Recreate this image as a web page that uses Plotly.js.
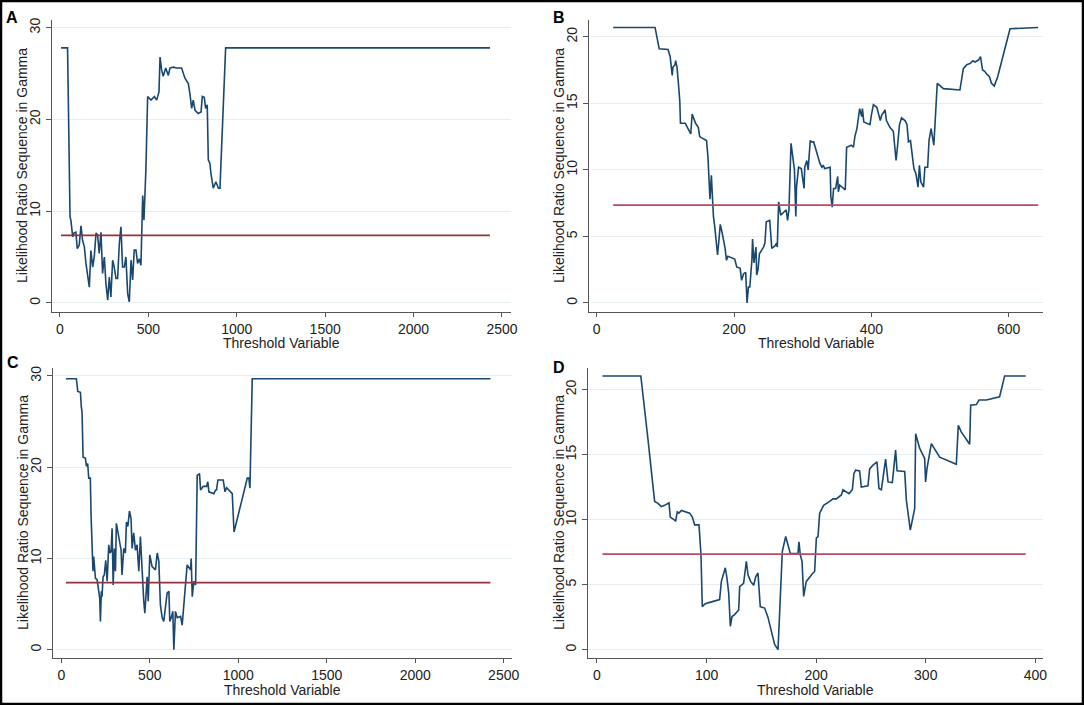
<!DOCTYPE html>
<html>
<head>
<meta charset="utf-8">
<script src="https://cdn.plot.ly/plotly-3.0.1.min.js"></script>
<style>
  html, body { margin: 0; padding: 0; background: #fff; }
  #graph { width: 1084px; height: 705px; }
</style>
</head>
<body>
<div id="graph"></div>
<script>
// LR sequence
const critValue = 7.35;

const aX = [6, 43, 57, 62, 72, 79, 90, 98, 109, 119, 128, 138, 147, 156, 166, 175, 185, 194, 204, 213,
  222, 232, 241, 251, 260, 270, 279, 288, 298, 307, 317, 326, 336, 345, 354, 364, 373, 383, 392, 402,
  411, 420, 430, 439, 449, 458, 468, 475, 486, 496, 515, 534, 547, 560, 566, 575, 584, 598, 613, 622,
  641, 660, 679, 688, 707, 726, 735, 745, 754, 764, 782, 798, 805, 816, 824, 833, 839, 848, 854, 867,
  882, 896, 905, 937, 2432];
const aY = [27.8, 27.8, 9.4, 9.0, 7.2, 7.6, 7.7, 5.9, 6.3, 8.4, 6.8, 6.1, 4.3, 3.0, 1.7, 5.7, 3.9, 5.0, 7.6, 7.4,
  5.4, 7.7, 3.2, 5.0, 2.1, 0.3, 2.8, 0.65, 4.65, 3.9, 2.65, 2.65, 6.5, 8.3, 3.9, 3.9, 5.0, 1.0, 0.1, 4.65,
  2.5, 5.75, 5.75, 4.3, 4.8, 4.1, 11.7, 9.0, 14.5, 22.5, 22.1, 22.5, 22.1, 23.0, 26.8, 25.4, 24.7, 25.6, 24.8, 25.6,
  25.7, 25.6, 25.6, 25.6, 24.5, 23.9, 22.8, 21.2, 22.1, 21.0, 20.65, 20.8, 22.5, 22.4, 21.2, 21.6, 15.6, 15.2, 14.1, 12.5,
  13.2, 12.5, 12.5, 27.8, 27.8];

const bX = [24, 85, 91, 104, 107, 110, 111, 114, 115, 117, 119, 121, 122, 126, 129, 133, 137, 139, 141, 144,
  148, 150, 153, 160, 162, 165, 167, 170, 172, 174, 176, 178, 180, 183, 187, 189, 191, 201, 204, 209,
  211, 214, 217, 219, 221, 223, 226, 227, 229, 232, 233, 235, 237, 243, 245, 247, 252, 255, 260, 262,
  263, 265, 268, 272, 276, 278, 280, 283, 285, 288, 290, 291, 294, 298, 302, 303, 306, 308, 311, 313,
  316, 319, 323, 325, 328, 330, 332, 340, 341, 343, 345, 348, 351, 352, 354, 362, 364, 371, 374, 376,
  379, 381, 383, 386, 387, 389, 393, 398, 400, 403, 408, 410, 413, 415, 420, 422, 427, 432, 434, 436,
  438, 441, 444, 449, 452, 454, 457, 460, 462, 465, 468, 470, 472, 476, 478, 482, 484, 487, 489, 491,
  496, 500, 505, 529, 534, 539, 544, 548, 551, 556, 559, 562, 565, 568, 572, 575, 579, 584, 590, 602, 643];
const bY = [20.7, 20.7, 19.1, 19.05, 18.5, 17.1, 17.7, 17.9, 18.2, 17.7, 16.5, 15.2, 13.5, 13.5, 13.5, 13.1, 12.7, 14.2, 13.9, 13.5,
  13.2, 12.5, 12.4, 12.2, 11.0, 7.8, 9.6, 6.5, 5.7, 4.5, 3.6, 4.7, 5.9, 5.2, 4.1, 3.2, 3.5, 3.3, 2.7, 2.6,
  1.7, 2.2, 2.3, 0, 1.2, 1.2, 3.2, 4.8, 3.0, 4.2, 2.1, 2.5, 3.7, 4.2, 4.5, 6.1, 6.2, 4.1, 4.3, 4.5,
  4.2, 7.6, 6.6, 6.8, 7.0, 6.2, 7.0, 12.0, 11.0, 10.0, 6.5, 8.7, 10.2, 10.1, 8.6, 10.2, 10.7, 10.0, 12.2, 12.1,
  12.1, 11.6, 10.85, 10.5, 10.2, 10.35, 10.1, 10.2, 8.0, 7.2, 8.6, 8.6, 9.5, 8.35, 8.85, 8.5, 11.7, 11.85, 11.7, 12.5,
  13.1, 13.9, 14.6, 14.0, 14.6, 13.6, 13.5, 13.4, 14.1, 14.9, 14.7, 14.2, 13.7, 14.1, 14.5, 13.7, 13.2, 12.9, 11.6, 10.7,
  11.7, 13.4, 13.9, 13.7, 13.4, 12.1, 12.2, 10.7, 10.1, 9.7, 8.7, 10.35, 9.1, 8.7, 10.2, 10.2, 12.2, 13.1, 12.4, 11.85,
  16.5, 16.3, 16.1, 16.0, 17.6, 17.9, 18.0, 18.2, 18.1, 18.25, 18.5, 17.5, 17.4, 17.2, 17.0, 16.5, 16.3, 17.0, 18.25, 20.6, 20.7];

const cX = [26, 85, 93, 108, 113, 117, 123, 136, 142, 149, 155, 164, 168, 174, 179, 183, 193, 202, 211, 217,
  221, 226, 230, 236, 243, 251, 259, 268, 274, 281, 287, 293, 300, 306, 311, 319, 328, 338, 343, 353,
  362, 368, 376, 385, 394, 400, 409, 419, 428, 438, 447, 457, 466, 472, 479, 485, 491, 500, 513, 532,
  542, 551, 560, 570, 579, 589, 598, 608, 613, 621, 630, 636, 645, 655, 674, 683, 711, 730, 734, 740,
  749, 759, 768, 781, 787, 802, 821, 828, 834, 862, 872, 877, 885, 915, 925, 934, 947, 966, 976, 1051,
  1060, 1066, 1079, 2425];
const cY = [29.7, 29.7, 28.3, 28.2, 26.6, 26.1, 21.1, 21.0, 20.1, 20.4, 18.8, 18.8, 14.8, 10.75, 8.6, 10.2, 7.8, 7.7, 6.7, 5.65,
  3.1, 6.4, 5.8, 8.0, 8.2, 9.8, 7.5, 11.5, 10.6, 10.75, 13.3, 7.1, 11.1, 8.6, 13.85, 12.9, 11.85, 10.9, 8.2, 11.1,
  10.6, 14.0, 13.5, 15.2, 14.4, 11.1, 12.8, 10.9, 11.5, 8.6, 12.4, 8.2, 5.3, 4.0, 6.2, 8.0, 5.3, 10.4, 9.1, 8.75,
  10.6, 9.7, 4.9, 3.5, 3.1, 4.55, 6.2, 6.4, 3.1, 3.5, 4.2, 0, 4.2, 3.5, 3.65, 2.7, 9.3, 8.75, 10.0, 5.8,
  7.5, 7.1, 19.1, 19.3, 17.5, 17.9, 17.9, 18.4, 17.3, 17.1, 17.5, 17.5, 18.6, 18.6, 17.3, 17.75, 17.5, 17.1, 12.9, 18.8,
  18.8, 17.7, 29.7, 29.7];

const dX = [5, 40, 46.5, 52.6, 55.7, 58.7, 61.7, 65.7, 66.9, 69.4, 71.8, 73.3, 74.8, 77, 81.5, 84.6, 87, 89.1, 93.1, 94.9,
  96.1, 98.2, 101.3, 111.9, 113.5, 115, 117.1, 118.6, 120.2, 121.7, 123.2, 125.6, 129.3, 130.2, 133.8, 136.3, 137.8, 140.2, 143, 144.8,
  146.9, 149, 153, 156, 159.7, 162.1, 165.2, 166.7, 169.1, 172.2, 176.4, 183.4, 184.3, 185.5, 187.1, 188.6, 191, 197.1, 198.6, 200.2,
  201.7, 203.2, 206.8, 212.3, 215.4, 218.4, 219.9, 223, 224.5, 227.5, 230, 233, 234.5, 236, 239.7, 241.2, 247.3, 248.8, 251.9, 255.5,
  257.3, 259.5, 263.4, 265.6, 269.5, 272.5, 273.8, 280.8, 282.3, 285.9, 289.9, 290.8, 294.4, 299, 299.9, 301.1, 305.1, 312.7, 327.9, 329.7,
  332.4, 340.1, 341, 346.2, 348.6, 355.3, 367.4, 372, 391.2];
const dY = [21.05, 21.05, 16.2, 11.4, 11.25, 11.0, 11.1, 11.3, 10.2, 10.05, 9.9, 10.6, 10.5, 10.7, 10.6, 10.5, 10.2, 9.6, 9.6, 7.3,
  3.3, 3.5, 3.6, 3.85, 5.25, 5.75, 6.3, 5.5, 4.35, 1.8, 2.55, 2.7, 3.05, 4.85, 5.1, 6.8, 5.75, 5.25, 4.95, 5.6,
  5.9, 3.3, 3.2, 2.5, 1.15, 0.4, 0, 3.45, 7.55, 8.7, 7.4, 7.4, 8.3, 7.3, 6.8, 4.1, 5.25, 5.9, 6.0, 8.6,
  8.7, 10.5, 11.1, 11.4, 11.6, 11.6, 11.7, 11.9, 12.3, 12.15, 12.0, 12.3, 13.55, 13.8, 13.75, 12.5, 12.6, 13.9, 14.2, 14.45,
  12.4, 12.3, 14.65, 12.9, 12.85, 15.35, 13.75, 13.7, 11.5, 9.2, 10.85, 16.6, 15.5, 14.7, 12.9, 13.9, 15.85, 14.8, 14.25, 17.25,
  16.75, 15.8, 18.8, 18.85, 19.2, 19.2, 19.45, 21.05, 21.05];

const panelLetters = ["A", "B", "C", "D"];
const xTitle = "Threshold Variable";
const yTitle = "Likelihood Ratio Sequence in Gamma";

const W = 1084, H = 705;
const navy = "#1a476f";
const fontFam = "Liberation Sans, Arial, sans-serif";
const txtFont = { family: fontFam, size: 14, color: "#222" };

// px boxes of each plot region: [left, right, top, bottom]
function dom(l, r, t, b) {
    return { x: [l / W, r / W], y: [1 - b / H, 1 - t / H], px: [l, r, t, b] };
}

function lrLine(x, y, n) {
    return {
        x: x, y: y, type: "scatter", mode: "lines", showlegend: false,
        xaxis: "x" + n, yaxis: "y" + n,
        line: { color: navy, width: 1.6 }
    };
}

function critLine(x, n, color) {
    return {
        x: [x[0], x[x.length - 1]], y: [critValue, critValue],
        type: "scatter", mode: "lines", showlegend: false,
        xaxis: "x" + n, yaxis: "y" + n,
        line: { color: color, width: 1.6 }
    };
}

function xAx(d, range, dtick, n) {
    return {
        domain: d.x, range: range, dtick: dtick, tick0: 0, anchor: "y" + n,
        showgrid: false, zeroline: false, showline: true, linecolor: "#555", linewidth: 1,
        ticks: "outside", ticklen: 4, tickcolor: "#555",
        tickfont: txtFont
    };
}

function yAx(d, range, dtick, n) {
    return {
        domain: d.y, range: range, dtick: dtick, tick0: 0, anchor: "x" + n,
        showgrid: true, gridcolor: "#e7eef1", gridwidth: 1,
        zeroline: false, showline: true, linecolor: "#555", linewidth: 1,
        ticks: "outside", ticklen: 5, tickcolor: "#555", tickangle: -90,
        tickfont: txtFont
    };
}

const dA = dom(52, 511, 20, 312);
const dB = dom(589, 1043, 20, 312);
const dC = dom(53, 512, 368, 658);
const dD = dom(588, 1043, 368, 658);
const doms = [dA, dB, dC, dD];

const data = [
    lrLine(aX, aY, ""), critLine(aX, "", "#90353b"),
    lrLine(bX, bY, "2"), critLine(bX, "2", "#b84a66"),
    lrLine(cX, cY, "3"), critLine(cX, "3", "#90353b"),
    lrLine(dX, dY, "4"), critLine(dX, "4", "#b84a66")
];

const letterPos = [[12, 17], [559, 17], [13, 362], [559, 367]];
const yTitleX = [22, 559, 23, 559];
const xTitleY = [343, 343, 690, 690];

const annotations = [];
panelLetters.forEach((t, i) => {
    const p = doms[i].px;
    annotations.push({
        text: "<b>" + t + "</b>", xref: "paper", yref: "paper",
        x: letterPos[i][0] / W, y: 1 - letterPos[i][1] / H,
        xanchor: "center", yanchor: "middle", showarrow: false,
        font: { family: fontFam, size: 16, color: "#000" }
    });
    annotations.push({
        text: xTitle, xref: "paper", yref: "paper",
        x: (p[0] + p[1]) / 2 / W, y: 1 - xTitleY[i] / H,
        xanchor: "center", yanchor: "middle", showarrow: false, font: txtFont
    });
    annotations.push({
        text: yTitle, xref: "paper", yref: "paper", textangle: -90,
        x: yTitleX[i] / W, y: 1 - (p[2] + p[3]) / 2 / H,
        xanchor: "center", yanchor: "middle", showarrow: false, font: txtFont
    });
});

const layout = {
    width: W, height: H,
    margin: { l: 0, r: 0, t: 0, b: 0 },
    paper_bgcolor: "#fff", plot_bgcolor: "#fff",
    font: { family: fontFam },
    showlegend: false,
    xaxis: xAx(dA, [-45, 2551], 500, ""),
    yaxis: yAx(dA, [-1.0, 30.84], 10, ""),
    xaxis2: xAx(dB, [-11.2, 650], 200, "2"),
    yaxis2: yAx(dB, [-0.68, 21.26], 5, "2"),
    xaxis3: xAx(dC, [-47, 2547], 500, "3"),
    yaxis3: yAx(dC, [-0.91, 30.87], 10, "3"),
    xaxis4: xAx(dD, [-8.2, 407], 100, "4"),
    yaxis4: yAx(dD, [-0.64, 21.66], 5, "4"),
    annotations: annotations,
    shapes: [{
        type: "rect", xref: "paper", yref: "paper",
        x0: 1 / W, x1: 1 - 1 / W, y0: 1 / H, y1: 1 - 1 / H,
        line: { color: "#000", width: 2.5 }
    }]
};

Plotly.newPlot("graph", data, layout, { displayModeBar: false, staticPlot: true });
</script>
</body>
</html>
